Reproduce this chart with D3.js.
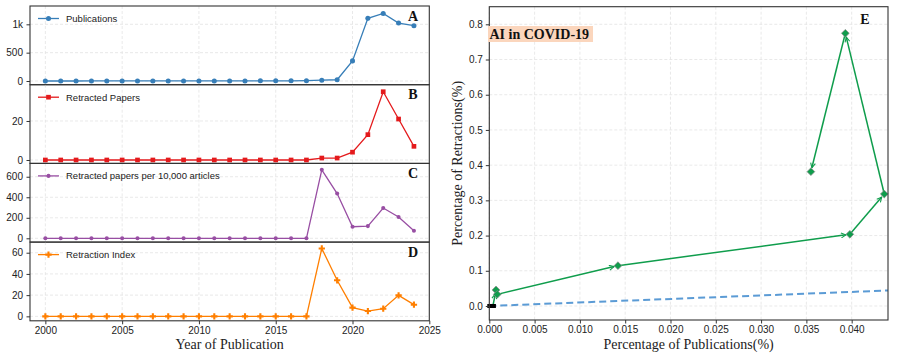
<!DOCTYPE html>
<html>
<head>
<meta charset="utf-8">
<script src="https://cdn.jsdelivr.net/npm/d3@7"></script>
<style>
  body { margin: 0; background: #fff; }
  svg { display: block; }
  .tick text { font-family: "Liberation Sans", Arial, sans-serif; font-size: 10px; fill: #222; }
</style>
</head>
<body>
<svg id="chart" width="897" height="360"></svg>
<script>
// ---- data ----
var years = d3.range(2000, 2025);
var publications = [0, 0, 0, 1, 1, 1, 1, 1, 1, 1, 2, 2, 2, 2, 3, 3, 4, 6, 14, 22, 355, 1105, 1192, 1022, 975];
var retractedPapers = [0, 0, 0, 0, 0, 0, 0, 0, 0, 0, 0, 0, 0, 0, 0, 0, 0, 0, 1, 1, 4, 13, 35, 21, 7];
var perTenThousand = [0, 0, 0, 0, 0, 0, 0, 0, 0, 0, 0, 0, 0, 0, 0, 0, 0, 0, 667, 436, 113, 119, 295, 207, 74];
var retractionIndex = [0, 0, 0, 0, 0, 0, 0, 0, 0, 0, 0, 0, 0, 0, 0, 0, 0, 0, 64, 34, 8.2, 5, 7.2, 19.8, 11];
var yearTicks = [2000, 2005, 2010, 2015, 2020, 2025];

// panel E: share of publications vs share of retractions
var pubShare = [0, 0.0002, 0.0004, 0.00074, 0.00088, 0.0142, 0.0398, 0.0436, 0.0393, 0.0355];
var retShare = [0, 0, 0, 0.0455, 0.033, 0.1145, 0.2036, 0.318, 0.7745, 0.3815];
var pubShareTicks = [0, 0.005, 0.01, 0.015, 0.02, 0.025, 0.03, 0.035, 0.04];
var retShareTicks = [0, 0.1, 0.2, 0.3, 0.4, 0.5, 0.6, 0.7, 0.8];

var panels = [
    { values: publications, label: "Publications", letter: "A", color: "#377eb8", shape: "circle",
      domain: [-65, 1323], ticks: [0, 500, 1000] },
    { values: retractedPapers, label: "Retracted Papers", letter: "B", color: "#e41a1c", shape: "square",
      domain: [-1.75, 38.6], ticks: [0, 20] },
    { values: perTenThousand, label: "Retracted papers per 10,000 articles", letter: "C", color: "#984ea3", shape: "small",
      domain: [-37, 730], ticks: [0, 200, 400, 600] },
    { values: retractionIndex, label: "Retraction Index", letter: "D", color: "#ff7f00", shape: "plus",
      domain: [-4.2, 70], ticks: [0, 20, 40, 60] }
];

var svg = d3.select("#chart");
var serif = "'Liberation Serif', 'Times New Roman', serif";
var gridColor = "#e3e3e3";

var left = 30, right = 429.3, top0 = 6, panelH = 78.7;
var x = d3.scaleLinear().domain([1999, 2025]).range([left, right]);

function symbolFor(shape) {
    switch (shape) {
        case "circle": return d3.symbol().type(d3.symbolCircle).size(20);
        case "square": return d3.symbol().type(d3.symbolSquare).size(22);
        case "small": return d3.symbol().type(d3.symbolCircle).size(13);
        case "plus": return d3.symbol().type(d3.symbolCross).size(22);
    }
}

function drawPanel(p, i) {
    var top = top0 + i * panelH, bottom = top + panelH;
    var y = d3.scaleLinear().domain(p.domain).range([bottom, top]);
    var g = svg.append("g");

    // grid
    g.selectAll("line.vgrid").data(yearTicks.slice(0, -1)).enter().append("line")
        .attr("x1", function (d) { return x(d); }).attr("x2", function (d) { return x(d); })
        .attr("y1", top).attr("y2", bottom)
        .attr("stroke", gridColor).attr("stroke-dasharray", "3,2").attr("stroke-width", 0.8);
    g.selectAll("line.hgrid").data(p.ticks).enter().append("line")
        .attr("x1", left).attr("x2", right)
        .attr("y1", function (d) { return y(d); }).attr("y2", function (d) { return y(d); })
        .attr("stroke", gridColor).attr("stroke-dasharray", "3,2").attr("stroke-width", 0.8);

    // y axis
    g.append("g")
        .attr("transform", "translate(" + left + ",0)")
        .call(d3.axisLeft(y).tickValues(p.ticks).tickSize(3.5).tickPadding(3.5)
            .tickFormat(function (d) { return d >= 1000 ? (d / 1000) + "k" : d; }))
        .call(function (a) { a.select(".domain").remove(); a.selectAll(".tick line").attr("stroke", "#333"); });

    // series line and markers
    var line = d3.line().x(function (d, j) { return x(years[j]); }).y(function (d) { return y(d); });
    g.append("path").datum(p.values)
        .attr("d", line).attr("fill", "none").attr("stroke", p.color).attr("stroke-width", 1.3);
    g.selectAll("path.mk").data(p.values).enter().append("path")
        .attr("class", "mk")
        .attr("d", symbolFor(p.shape))
        .attr("transform", function (d, j) { return "translate(" + x(years[j]) + "," + y(d) + ")"; })
        .attr("fill", p.color);

    // legend
    var ly = top + 12.5;
    g.append("line").attr("x1", 38).attr("x2", 59).attr("y1", ly).attr("y2", ly)
        .attr("stroke", p.color).attr("stroke-width", 1.3);
    g.append("path").attr("d", symbolFor(p.shape))
        .attr("transform", "translate(48.5," + ly + ")").attr("fill", p.color);
    g.append("text").attr("x", 66).attr("y", ly + 3.4)
        .attr("font-family", "'Liberation Sans', Arial, sans-serif").attr("font-size", "9.5px")
        .attr("fill", "#222").text(p.label);

    // panel letter
    g.append("text").attr("x", 413).attr("y", top + 14.5).attr("text-anchor", "middle")
        .attr("font-family", serif).attr("font-weight", "bold").attr("font-size", "14px")
        .attr("fill", "#111").text(p.letter);

    // frame
    g.append("rect").attr("x", left).attr("y", top).attr("width", right - left).attr("height", panelH)
        .attr("fill", "none").attr("stroke", "#333").attr("stroke-width", 1.1);

    if (i === panels.length - 1) {
        g.append("g")
            .attr("transform", "translate(0," + bottom + ")")
            .call(d3.axisBottom(x).tickValues(yearTicks).tickSize(3.5).tickPadding(2.5).tickFormat(d3.format("d")))
            .call(function (a) { a.select(".domain").remove(); a.selectAll(".tick line").attr("stroke", "#333"); });
    }
}

panels.forEach(drawPanel);

svg.append("text").attr("x", (left + right) / 2).attr("y", 349).attr("text-anchor", "middle")
    .attr("font-family", serif).attr("font-size", "14px").attr("fill", "#222")
    .text("Year of Publication");

// ---- panel E ----
function drawShare() {
    var L = 489.3, R = 888, T = 6.7, B = 320;
    var xs = d3.scaleLinear().domain([0, 0.04401]).range([L, R]);
    var ys = d3.scaleLinear().domain([-0.0398, 0.85]).range([B, T]);
    var g = svg.append("g");
    var green = "#0f9d4c";

    g.selectAll("line.vgrid").data(pubShareTicks).enter().append("line")
        .attr("x1", function (d) { return xs(d); }).attr("x2", function (d) { return xs(d); })
        .attr("y1", T).attr("y2", B)
        .attr("stroke", gridColor).attr("stroke-dasharray", "3,2").attr("stroke-width", 0.8);
    g.selectAll("line.hgrid").data(retShareTicks).enter().append("line")
        .attr("x1", L).attr("x2", R)
        .attr("y1", function (d) { return ys(d); }).attr("y2", function (d) { return ys(d); })
        .attr("stroke", gridColor).attr("stroke-dasharray", "3,2").attr("stroke-width", 0.8);

    // parity reference line y = x
    var xMax = xs.domain()[1];
    g.append("line")
        .attr("x1", xs(0)).attr("y1", ys(0)).attr("x2", xs(xMax)).attr("y2", ys(xMax))
        .attr("stroke", "#5b9bd5").attr("stroke-width", 2).attr("stroke-dasharray", "7,4");

    svg.append("defs").append("marker")
        .attr("id", "arrow").attr("viewBox", "0 0 10 10").attr("refX", 9).attr("refY", 5)
        .attr("markerWidth", 6).attr("markerHeight", 6).attr("orient", "auto-start-reverse")
        .attr("markerUnits", "userSpaceOnUse")
        .append("path").attr("d", "M1,1 L9,5 L1,9").attr("fill", "none")
        .attr("stroke", green).attr("stroke-width", 1.8);

    // arrows between consecutive points
    var pts = pubShare.map(function (d, j) { return [xs(d), ys(retShare[j])]; });
    for (var j = 0; j < pts.length - 1; j++) {
        var a = pts[j], b = pts[j + 1];
        var dx = b[0] - a[0], dy = b[1] - a[1], len = Math.sqrt(dx * dx + dy * dy);
        var shrink = len > 8 ? 4 : 0;
        g.append("line")
            .attr("x1", a[0]).attr("y1", a[1])
            .attr("x2", b[0] - dx / len * shrink).attr("y2", b[1] - dy / len * shrink)
            .attr("stroke", green).attr("stroke-width", 1.5)
            .attr("marker-end", len > 8 ? "url(#arrow)" : null);
    }

    var diamond = d3.symbol().type(d3.symbolSquare).size(30);
    var greenPts = pts.filter(function (d, j) { return retShare[j] !== 0; });
    var zeroPts = pts.filter(function (d, j) { return retShare[j] === 0; });
    g.selectAll("path.pt").data(greenPts).enter().append("path")
        .attr("class", "pt")
        .attr("d", diamond)
        .attr("transform", function (d) { return "translate(" + d[0] + "," + d[1] + ") rotate(45)"; })
        .attr("fill", green).attr("stroke", "#8a8a8a").attr("stroke-width", 0.7);
    // zero-retraction years sit on the origin as black bars
    g.selectAll("rect.zero").data(zeroPts).enter().append("rect")
        .attr("class", "zero")
        .attr("x", function (d) { return d[0] - 2; }).attr("y", function (d) { return d[1] - 2; })
        .attr("width", 5).attr("height", 4).attr("fill", "#000");

    // axes
    g.append("g").attr("transform", "translate(0," + B + ")")
        .call(d3.axisBottom(xs).tickValues(pubShareTicks).tickSize(3.5).tickPadding(2.5).tickFormat(d3.format(".3f")))
        .call(function (a) { a.select(".domain").remove(); a.selectAll(".tick line").attr("stroke", "#333"); });
    g.append("g").attr("transform", "translate(" + L + ",0)")
        .call(d3.axisLeft(ys).tickValues(retShareTicks).tickSize(3.5).tickPadding(3).tickFormat(d3.format(".1f")))
        .call(function (a) { a.select(".domain").remove(); a.selectAll(".tick line").attr("stroke", "#333"); });

    g.append("rect").attr("x", L).attr("y", T).attr("width", R - L).attr("height", B - T)
        .attr("fill", "none").attr("stroke", "#333").attr("stroke-width", 1.1);

    // annotation box
    g.append("rect").attr("x", 488).attr("y", 26).attr("width", 105).attr("height", 16)
        .attr("fill", "#fbd6bd");
    g.append("text").attr("x", 489.5).attr("y", 38.5)
        .attr("font-family", serif).attr("font-weight", "bold").attr("font-size", "14px")
        .attr("fill", "#111").text("AI in COVID-19");

    g.append("text").attr("x", 865).attr("y", 24).attr("text-anchor", "middle")
        .attr("font-family", serif).attr("font-weight", "bold").attr("font-size", "14px")
        .attr("fill", "#111").text("E");

    g.append("text").attr("x", (L + R) / 2).attr("y", 349).attr("text-anchor", "middle")
        .attr("font-family", serif).attr("font-size", "14px").attr("fill", "#222")
        .text("Percentage of Publications(%)");
    g.append("text").attr("transform", "translate(462," + (T + B) / 2 + ") rotate(-90)")
        .attr("text-anchor", "middle")
        .attr("font-family", serif).attr("font-size", "14px").attr("fill", "#222")
        .text("Percentage of Retractions(%)");
}

drawShare();
</script>
</body>
</html>
